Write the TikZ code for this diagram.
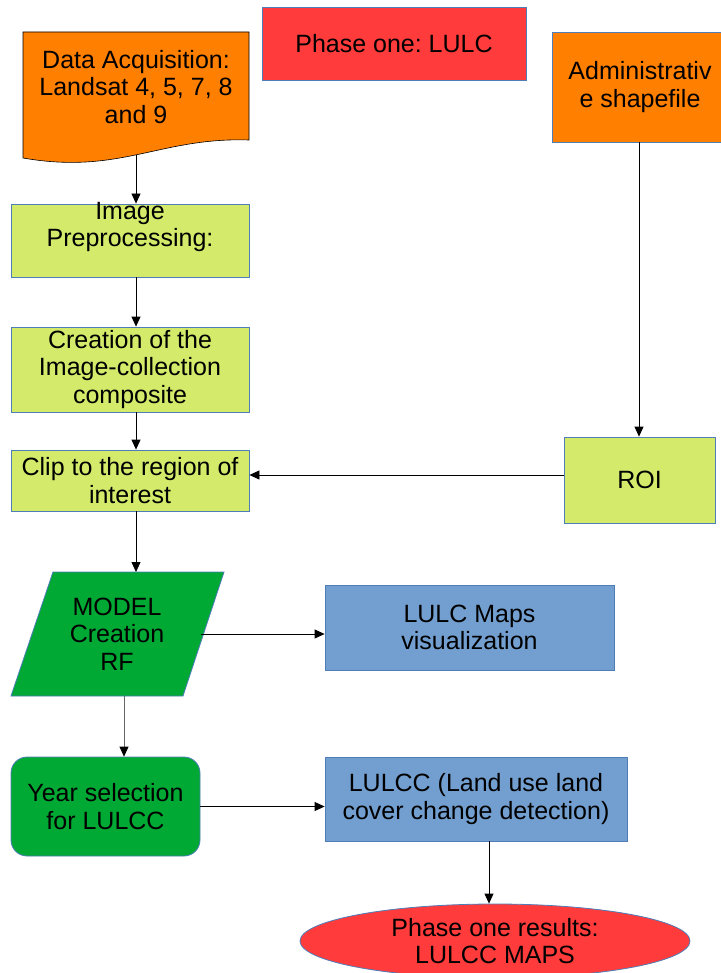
\documentclass[tikz,border=0pt]{standalone}
\usepackage{fontspec}
\setmainfont{Liberation Sans}
\frenchspacing
\usetikzlibrary{arrows.meta,shapes.geometric}
\definecolor{cred}{HTML}{FF3B3B}
\definecolor{corange}{HTML}{FF7F00}
\definecolor{clime}{HTML}{D4EA6B}
\definecolor{cblue}{HTML}{729FCF}
\definecolor{cgreen}{HTML}{00A933}
\definecolor{cborder}{HTML}{4F7DB8}
\tikzset{
  box/.style={draw=cborder, line width=0.8pt, rectangle, inner sep=0pt, align=center,
    font=\fontsize{25}{27.5}\selectfont},
  txt/.style={inner sep=0pt, align=center, font=\fontsize{25}{27.5}\selectfont},
  arr/.style={-{Triangle[length=10pt,width=9pt,color=black]}, line width=0.8pt, black},
}
\begin{document}
\begin{tikzpicture}[x=1pt,y=-1pt]
\useasboundingbox (0,0) rectangle (720,973);
% title
\node[box, fill=cred, minimum width=264pt, minimum height=73pt] (title) at (394,43.5) {Phase one: LULC};
% data acquisition (document shape)
\path[fill=corange, draw=black, line width=0.6pt] (23,32) -- (249,32) -- (249,140)
  .. controls (160,137) and (120,175) .. (23,158) -- cycle;
\node[txt] (acq) at (136,87) {Data Acquisition:\\Landsat 4, 5, 7, 8\\and 9};
\coordinate (acqb) at (136,155);
\coordinate (colx) at (136,0);
% administrative shapefile
\node[box, fill=corange, minimum width=176pt, minimum height=110pt] (adm) at (640,87) {Administrativ\\e shapefile};
% left column
\node[box, fill=clime, minimum width=238pt, minimum height=73pt] (pre) at (130,240.5) {};
\node[txt] (pretxt) at (130,227) {Image\\Preprocessing:};
\node[box, fill=clime, minimum width=238pt, minimum height=85pt] (cre) at (130,369.5) {Creation of the\\Image-collection\\composite};
\node[box, fill=clime, minimum width=238pt, minimum height=61pt] (clip) at (130,480.5) {Clip to the region of\\interest};
\node[box, fill=clime, minimum width=151pt, minimum height=86pt] (roi) at (639.5,480) {ROI};
% model parallelogram
\path[fill=cgreen, draw=cborder, line width=0.8pt] (53,572) -- (224,572) -- (183,696) -- (11,696) -- cycle;
\node[txt] (model) at (117,634) {MODEL\\Creation\\RF};
\coordinate (modelR) at (201,634);
\coordinate (modelB) at (124,696);
\coordinate (modelT) at (136,572);
\node[box, fill=cblue, minimum width=289pt, minimum height=85pt] (maps) at (469.5,627.5) {LULC Maps\\visualization};
\node[box, fill=cgreen, rounded corners=16pt, minimum width=189pt, minimum height=99pt] (year) at (105.5,806.5) {Year selection\\for LULCC};
\node[box, fill=cblue, minimum width=302pt, minimum height=84pt] (lulcc) at (476,799) {LULCC (Land use land\\cover change detection)};
\node[box, ellipse, fill=cred, minimum width=390pt, minimum height=74pt] (res) at (495,941) {Phase one results:\\LULCC MAPS};
\coordinate (rx) at (489,0);
% connectors
\draw[arr] (acqb) -- (acqb |- pre.north);
\draw[arr] (pre.south -| colx) -- (cre.north -| colx);
\draw[arr] (cre.south -| colx) -- (clip.north -| colx);
\draw[arr] (clip.south -| colx) -- (modelT);
\draw[arr] (adm.south -| 639,0) -- (roi.north -| 639,0);
\draw[arr] ([yshift=5pt]roi.west) -- ([yshift=5pt]roi.west -| clip.east);
\draw[arr] (modelR) -- (modelR -| maps.west);
\draw[arr, draw=black!60] (modelB) -- (modelB |- year.north);
\draw[arr] (year.east) -- (year.east -| lulcc.west);
\draw[arr] (lulcc.south -| rx) -- (rx |- res.north);
\end{tikzpicture}
\end{document}
